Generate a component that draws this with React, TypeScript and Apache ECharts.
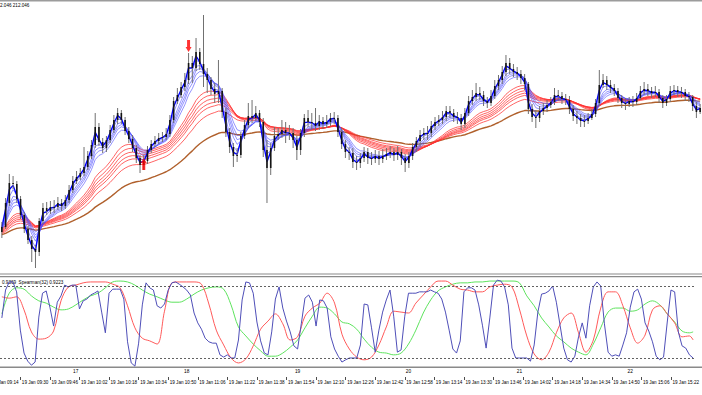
import React, { useEffect, useRef } from "react";
import * as echarts from "echarts";

// ---------- labels / categories ----------
const firstBarTime = "09:20";
const minutesPerBar = 2;
const dateLabel = "19 Jan";
const labelStartTime = "09:30";
const labelEveryMinutes = 16;
const headerText = "2.046 212.046";
const indicatorTitle = "0.9369  Spearman(32) 0.9223";
const leftCutLabel = "19 Jan 09:14";
const hourMarks: [string, string][] = [
  ["10:00", "17"], ["11:00", "18"], ["12:00", "19"],
  ["13:00", "20"], ["14:00", "21"], ["15:00", "22"],
];

// ---------- price axis ----------
const priceMin = 211.221;
const priceMax = 212.576;

// ---------- OHLC ----------
const openP = [
  211.426,211.451,211.571,211.671,211.666,211.591,211.511,211.441,211.386,211.341,
  211.326,211.481,211.546,211.531,211.551,211.551,211.571,211.556,211.586,211.636,
  211.681,211.701,211.721,211.751,211.806,211.861,211.951,211.876,211.846,211.886,
  211.936,211.986,212.021,211.986,211.931,211.891,211.846,211.796,211.761,211.781,
  211.836,211.866,211.881,211.896,211.901,211.916,211.986,212.081,212.111,212.151,
  212.186,212.271,212.246,212.326,212.266,212.216,212.186,212.141,212.116,212.131,
  212.026,211.926,211.851,211.806,211.811,211.906,211.961,212.006,211.996,212.021,
  211.976,211.836,211.746,211.846,211.906,211.916,211.936,211.921,211.921,211.886,
  211.836,211.921,211.996,211.976,211.971,211.956,211.981,211.966,211.976,211.996,
  211.996,211.926,211.866,211.826,211.821,211.776,211.771,211.796,211.826,211.796,
  211.791,211.806,211.791,211.806,211.816,211.826,211.811,211.826,211.796,211.771,
  211.806,211.851,211.881,211.911,211.921,211.921,211.956,211.976,211.986,212.001,
  212.031,212.021,212.001,211.996,211.966,212.021,212.081,212.101,212.121,212.111,
  212.081,212.071,212.106,212.156,212.186,212.226,212.271,212.241,212.226,212.216,
  212.196,212.166,212.041,212.001,211.996,212.031,212.046,212.061,212.076,212.111,
  212.106,212.091,212.086,212.041,212.006,211.996,211.981,211.981,211.996,212.016,
  212.071,212.161,212.186,212.161,212.146,212.131,212.096,212.071,212.066,212.081,
  212.076,212.096,212.131,212.141,212.131,212.121,212.126,212.096,212.071,212.091,
  212.131,212.136,212.126,212.126,212.106,212.101,212.056,212.026,
];
const highP = [
  211.476,211.596,211.716,211.706,211.681,211.606,211.526,211.456,211.406,211.361,
  211.496,211.571,211.576,211.581,211.586,211.601,211.591,211.611,211.661,211.706,
  211.731,211.746,211.851,211.831,211.886,212.021,211.971,211.896,211.906,211.961,
  212.011,212.046,212.036,212.001,211.951,211.911,211.861,211.811,211.811,211.856,
  211.886,211.906,211.921,211.926,211.946,212.011,212.101,212.146,212.176,212.221,
  212.321,212.306,212.396,212.346,212.511,212.246,212.201,212.171,212.286,212.146,
  212.046,211.946,211.871,211.846,211.926,211.986,212.071,212.086,212.056,212.036,
  211.996,211.886,211.871,211.951,211.946,211.986,211.976,211.961,211.946,211.906,
  211.941,212.016,212.036,212.021,212.046,212.011,212.001,212.011,212.021,212.026,
  212.011,211.946,211.886,211.851,211.846,211.806,211.821,211.851,211.846,211.826,
  211.836,211.831,211.841,211.846,211.856,211.846,211.856,211.841,211.816,211.826,
  211.871,211.901,211.936,211.946,211.956,211.981,212.001,212.011,212.031,212.056,
  212.056,212.041,212.026,212.016,212.046,212.106,212.136,212.171,212.151,212.131,
  212.101,212.136,212.186,212.211,212.256,212.311,212.296,212.266,212.251,212.236,
  212.216,212.176,212.066,212.036,212.056,212.071,212.086,212.101,212.146,212.136,
  212.126,212.116,212.106,212.061,212.031,212.016,212.011,212.021,212.041,212.091,
  212.236,212.216,212.206,212.186,212.166,212.146,212.111,212.096,212.101,212.106,
  212.121,212.156,212.176,212.166,212.151,212.156,212.141,212.111,212.111,212.156,
  212.161,212.156,212.151,212.141,212.126,212.111,212.076,212.066,
];
const lowP = [
  211.396,211.441,211.556,211.641,211.571,211.491,211.421,211.366,211.276,211.246,
  211.306,211.466,211.511,211.516,211.521,211.536,211.531,211.541,211.571,211.621,
  211.666,211.686,211.706,211.736,211.791,211.846,211.856,211.821,211.826,211.871,
  211.921,211.966,211.966,211.911,211.871,211.826,211.771,211.721,211.736,211.766,
  211.821,211.851,211.866,211.876,211.886,211.901,211.971,212.066,212.096,212.131,
  212.166,212.171,212.231,212.236,212.151,212.121,212.111,212.071,212.071,211.996,
  211.901,211.821,211.751,211.776,211.796,211.891,211.946,211.971,211.981,211.951,
  211.801,211.571,211.711,211.831,211.886,211.896,211.871,211.886,211.846,211.786,
  211.811,211.901,211.951,211.936,211.931,211.936,211.941,211.946,211.956,211.966,
  211.901,211.841,211.796,211.786,211.746,211.736,211.746,211.776,211.766,211.761,
  211.771,211.761,211.771,211.786,211.796,211.781,211.786,211.761,211.726,211.746,
  211.786,211.826,211.856,211.886,211.886,211.901,211.936,211.956,211.966,211.981,
  211.996,211.976,211.966,211.936,211.946,212.006,212.061,212.081,212.086,212.056,
  212.046,212.056,212.091,212.136,212.166,212.206,212.216,212.201,212.186,212.166,
  212.136,212.016,211.976,211.946,211.976,212.011,212.026,212.046,212.061,212.081,
  212.066,212.061,212.016,211.981,211.966,211.951,211.951,211.966,211.986,212.001,
  212.056,212.146,212.136,212.121,212.106,212.071,212.046,212.036,212.051,212.051,
  212.061,212.086,212.111,212.106,212.096,212.101,212.071,212.046,212.056,212.076,
  212.111,212.101,212.096,212.081,212.076,212.031,211.996,212.016,
];
const closeP = [
  211.451,211.571,211.671,211.666,211.591,211.511,211.441,211.386,211.341,211.326,
  211.481,211.546,211.531,211.551,211.551,211.571,211.556,211.586,211.636,211.681,
  211.701,211.721,211.751,211.806,211.861,211.951,211.876,211.846,211.886,211.936,
  211.986,212.021,211.986,211.931,211.891,211.846,211.796,211.761,211.781,211.836,
  211.866,211.881,211.896,211.901,211.916,211.986,212.081,212.111,212.151,212.186,
  212.271,212.246,212.326,212.266,212.216,212.186,212.141,212.116,212.131,212.026,
  211.926,211.851,211.806,211.811,211.906,211.961,212.006,211.996,212.021,211.976,
  211.836,211.746,211.846,211.906,211.916,211.936,211.921,211.921,211.886,211.836,
  211.921,211.996,211.976,211.971,211.956,211.981,211.966,211.976,211.996,211.996,
  211.926,211.866,211.826,211.821,211.776,211.771,211.796,211.826,211.796,211.791,
  211.806,211.791,211.806,211.816,211.826,211.811,211.826,211.796,211.771,211.806,
  211.851,211.881,211.911,211.921,211.921,211.956,211.976,211.986,212.001,212.031,
  212.021,212.001,211.996,211.966,212.021,212.081,212.101,212.121,212.111,212.081,
  212.071,212.106,212.156,212.186,212.226,212.271,212.241,212.226,212.216,212.196,
  212.166,212.041,212.001,211.996,212.031,212.046,212.061,212.076,212.111,212.106,
  212.091,212.086,212.041,212.006,211.996,211.981,211.981,211.996,212.016,212.071,
  212.161,212.186,212.161,212.146,212.131,212.096,212.071,212.066,212.081,212.076,
  212.096,212.131,212.141,212.131,212.121,212.126,212.096,212.071,212.091,212.131,
  212.136,212.126,212.126,212.106,212.101,212.056,212.026,212.046,
];

// ---------- moving averages (GMMA + trend) ----------
const shortPeriods = [3, 5, 8, 10, 12, 15];
const longPeriods = [30, 35, 40, 45, 50, 60];
const trendPeriod = 100;
const shortSeeds = [211.446, 211.446, 211.441, 211.441, 211.436, 211.436];
const longSeeds = [211.441, 211.436, 211.431, 211.426, 211.421, 211.416];
const trendSeed = 211.411;

// ---------- signal arrows [barIndex, price] ----------
const arrowsDown = [[50, 212.356]];
const arrowsUp = [[38, 211.766]];

// ---------- Spearman panel ----------
const spearBlue = [
  0.09,0.71,0.89,0.89,0.67,-0.18,-0.69,-0.87,-0.96,-0.89,
  0.11,0.64,0.69,0.33,-0.09,0.44,0.58,0.82,0.78,0.82,
  0.82,0.29,0.47,0.51,0.60,0.64,0.69,0.22,-0.24,0.64,
  0.73,0.73,0.73,0.51,-0.44,-0.91,-0.98,-0.47,0.38,0.87,
  0.76,0.71,0.36,0.31,0.40,0.71,0.87,0.89,0.84,0.78,
  0.71,0.60,0.20,-0.02,-0.16,-0.36,-0.44,-0.47,-0.47,-0.73,
  -0.78,-0.73,-0.80,-0.80,-0.40,0.49,0.89,0.87,0.64,0.00,
  -0.42,-0.69,-0.73,-0.22,0.51,0.78,0.31,0.02,-0.22,-0.53,
  -0.60,-0.04,0.53,0.60,0.44,-0.09,0.49,0.47,0.31,-0.33,
  -0.60,-0.76,-0.89,-0.84,-0.80,-0.80,-0.80,-0.51,0.40,0.38,
  -0.13,-0.67,-0.18,0.22,0.49,0.71,0.13,-0.67,-0.62,0.13,
  0.64,0.64,0.64,0.67,0.67,0.67,0.71,0.67,0.64,0.51,
  0.22,-0.18,-0.60,-0.69,-0.42,0.67,0.76,0.76,0.71,0.38,
  -0.07,-0.58,0.09,0.82,0.93,0.91,0.78,0.38,-0.58,-0.80,
  -0.80,-0.80,-0.80,-0.87,-0.51,0.22,0.62,0.64,0.69,0.80,
  0.44,-0.07,-0.58,-0.84,-0.89,-0.76,-0.33,-0.02,-0.36,0.36,
  0.78,0.89,0.80,-0.04,-0.67,-0.76,-0.73,-0.76,-0.51,-0.24,
  0.33,0.67,0.73,0.51,-0.02,-0.20,-0.44,-0.76,-0.84,-0.78,
  0.00,0.71,0.67,-0.22,-0.53,-0.58,-0.73,-0.80,
];
// sampled every 2 bars, last value at the final bar
const spearRed = [
  0.56,0.53,0.56,0.27,-0.22,-0.38,-0.36,-0.20,0.47,0.78,
  0.82,0.87,0.89,0.89,0.89,0.84,0.76,0.36,-0.13,-0.36,
  -0.42,-0.49,0.24,0.87,0.89,0.89,0.89,0.84,0.40,-0.18,
  -0.51,-0.80,-0.91,-0.82,-0.53,-0.16,0.02,0.18,-0.04,-0.40,
  -0.33,0.13,0.31,0.42,0.64,0.42,-0.27,-0.60,-0.78,-0.84,
  -0.78,-0.51,-0.11,0.24,0.22,0.20,0.42,0.60,0.78,0.91,
  0.91,0.82,0.73,0.71,0.67,0.67,0.78,0.82,0.84,0.78,
  0.29,-0.31,-0.71,-0.84,-0.67,-0.24,0.09,0.20,-0.24,-0.67,
  -0.40,0.31,0.67,0.67,0.36,-0.13,-0.47,-0.29,0.27,0.36,
  0.18,-0.02,-0.33,-0.31,-0.40,
];
const spearGreen = [
  0.18,0.64,0.76,0.73,0.58,0.47,0.42,0.33,0.27,0.29,
  0.38,0.49,0.58,0.64,0.76,0.89,0.91,0.89,0.82,0.71,
  0.62,0.56,0.49,0.44,0.44,0.51,0.62,0.71,0.76,0.78,
  0.73,0.38,-0.11,-0.31,-0.49,-0.64,-0.76,-0.76,-0.69,-0.56,
  -0.40,-0.13,0.13,0.33,0.31,0.18,0.00,-0.04,-0.16,-0.38,
  -0.56,-0.67,-0.69,-0.73,-0.69,-0.49,-0.18,0.20,0.49,0.69,
  0.78,0.84,0.87,0.87,0.89,0.89,0.91,0.91,0.91,0.91,
  0.87,0.58,0.36,0.09,-0.11,-0.31,-0.44,-0.58,-0.67,-0.73,
  -0.49,-0.13,0.22,0.31,0.31,0.24,0.27,0.40,0.47,0.38,
  0.18,0.00,-0.20,-0.24,-0.22,
];
const sampleStep = 2;
const levels = [0.8, -0.8];

// ---------- helpers ----------
const FONT = "'Liberation Sans', Arial, sans-serif";
const toMin = (t: string) => {
  const [h, m] = t.split(":").map(Number);
  return h * 60 + m;
};
const fmt = (m: number) =>
  `${String(Math.floor(m / 60)).padStart(2, "0")}:${String(m % 60).padStart(2, "0")}`;
const categories = closeP.map((_, i) => fmt(toMin(firstBarTime) + i * minutesPerBar));
const isTimeLabel = (i: number) => {
  const d = toMin(categories[i]) - toMin(labelStartTime);
  return d >= 0 && d % labelEveryMinutes === 0;
};
const hourMap = new Map(hourMarks);

function emaLine(values: number[], periodMinutes: number, seed: number): number[] {
  const k = 1 - Math.pow(1 - 2 / (periodMinutes + 1), minutesPerBar);
  let v = seed;
  return values.map((x) => {
    v = v + k * (x - v);
    return Math.round(v * 10000) / 10000;
  });
}
const sampled = (arr: number[]) =>
  arr.map((v, k) => [Math.min(k * sampleStep, closeP.length - 1), v]);

export default function App() {
  const ref = useRef<HTMLDivElement>(null);
  useEffect(() => {
    if (!ref.current) return;
    const chart = echarts.init(ref.current, undefined, { renderer: "svg" });

    const candleData = closeP.map((c, i) => [i, openP[i], c, lowP[i], highP[i]]);
    const lineBase = {
      type: "line",
      xAxisIndex: 0,
      yAxisIndex: 0,
      showSymbol: false,
      symbol: "none",
      silent: true,
      clip: true,
    };
    const longLines = longPeriods.map((p, k) => ({
      ...lineBase,
      name: `EMA${p}`,
      data: emaLine(closeP, p, longSeeds[k]),
      lineStyle: { color: "#ff3232", width: 0.75 },
      z: 3,
    }));
    const shortLines = shortPeriods.map((p, k) => ({
      ...lineBase,
      name: `EMA${p}`,
      data: emaLine(closeP, p, shortSeeds[k]),
      lineStyle: {
        color: k === 0 ? "#0000ff" : "#4a4aff",
        width: k === 0 ? 1.4 : 0.6,
      },
      z: k === 0 ? 5 : 4,
    }));

    const option: any = {
      animation: false,
      backgroundColor: "#ffffff",
      grid: [
        { left: 0, right: 0, top: 2, height: 271 },
        { left: 0, right: 0, top: 277, height: 90 },
      ],
      xAxis: [
        { type: "category", gridIndex: 0, data: categories, boundaryGap: true, show: false },
        {
          type: "category",
          gridIndex: 1,
          data: categories,
          boundaryGap: true,
          axisLine: { show: false },
          axisTick: { show: false },
          splitLine: { show: false },
          axisLabel: {
            interval: (_i: number, v: string) => hourMap.has(v),
            formatter: (v: string) => hourMap.get(v) ?? "",
            fontSize: 4.8,
            fontFamily: FONT,
            color: "#000",
            margin: 1.5,
          },
        },
        {
          type: "category",
          gridIndex: 1,
          data: categories,
          boundaryGap: true,
          position: "bottom",
          offset: 10,
          axisLine: { show: false },
          axisTick: {
            show: true,
            alignWithLabel: true,
            interval: (i: number) => isTimeLabel(i),
            length: 3,
            lineStyle: { color: "#000", width: 0.7 },
          },
          splitLine: { show: false },
          axisLabel: {
            interval: (i: number) => isTimeLabel(i),
            formatter: (v: string) => `${dateLabel} ${v}`,
            align: "left",
            padding: [0, 0, 0, 1.5],
            fontSize: 4.6,
            fontFamily: FONT,
            color: "#000",
            margin: 3,
          },
        },
      ],
      yAxis: [
        { type: "value", gridIndex: 0, min: priceMin, max: priceMax, show: false, splitLine: { show: false } },
        { type: "value", gridIndex: 1, min: -1, max: 1, show: false, splitLine: { show: false } },
      ],
      series: [
        {
          ...lineBase,
          name: `EMA${trendPeriod}`,
          data: emaLine(closeP, trendPeriod, trendSeed),
          lineStyle: { color: "#b0602c", width: 1.4 },
          z: 3,
        },
        ...longLines,
        ...shortLines,
        {
          type: "custom",
          name: "candles",
          xAxisIndex: 0,
          yAxisIndex: 0,
          data: candleData,
          encode: { x: 0, y: [1, 2, 3, 4] },
          clip: true,
          silent: true,
          z: 6,
          renderItem: (_params: any, api: any) => {
            const x = api.value(0);
            const o = api.coord([x, api.value(1)]);
            const c = api.coord([x, api.value(2)]);
            const l = api.coord([x, api.value(3)]);
            const h = api.coord([x, api.value(4)]);
            const top = Math.min(o[1], c[1]);
            const bot = Math.max(o[1], c[1]);
            const w = 1.6;
            return {
              type: "group",
              children: [
                {
                  type: "line",
                  shape: { x1: h[0], y1: h[1], x2: l[0], y2: l[1] },
                  style: { stroke: "#707070", lineWidth: 1 },
                },
                {
                  type: "rect",
                  shape: { x: o[0] - w / 2, y: top, width: w, height: Math.max(bot - top, 1) },
                  style: { fill: "#141414" },
                },
              ],
            };
          },
        },
        {
          type: "scatter",
          xAxisIndex: 0,
          yAxisIndex: 0,
          data: arrowsDown,
          symbol: "path://M2,0 L6,0 L6,7 L8,7 L4,12 L0,7 L2,7 Z",
          symbolSize: [6, 12],
          itemStyle: { color: "#ff0000" },
          silent: true,
          z: 8,
        },
        {
          type: "scatter",
          xAxisIndex: 0,
          yAxisIndex: 0,
          data: arrowsUp,
          symbol: "path://M4,0 L8,5 L6,5 L6,12 L2,12 L2,5 L0,5 Z",
          symbolSize: [6, 12],
          itemStyle: { color: "#ff0000" },
          silent: true,
          z: 8,
        },
        {
          type: "line",
          name: "green",
          xAxisIndex: 1,
          yAxisIndex: 1,
          data: sampled(spearGreen),
          showSymbol: false,
          symbol: "none",
          smooth: 0.35,
          silent: true,
          lineStyle: { color: "#5ee35e", width: 1 },
          z: 3,
        },
        {
          type: "line",
          name: "red",
          xAxisIndex: 1,
          yAxisIndex: 1,
          data: sampled(spearRed),
          showSymbol: false,
          symbol: "none",
          smooth: 0.35,
          silent: true,
          lineStyle: { color: "#ff5a5a", width: 1 },
          z: 3,
        },
        {
          type: "line",
          name: "Spearman(32)",
          xAxisIndex: 1,
          yAxisIndex: 1,
          data: spearBlue,
          showSymbol: false,
          symbol: "none",
          silent: true,
          lineStyle: { color: "#4f4fb8", width: 1 },
          z: 4,
          markLine: {
            silent: true,
            symbol: ["none", "none"],
            label: { show: false },
            lineStyle: { color: "#3a3a3a", type: [2, 2], width: 0.8 },
            data: levels.map((v) => ({ yAxis: v })),
          },
        },
      ],
      graphic: [
        { type: "rect", silent: true, shape: { x: 0, y: 0, width: 702, height: 1.5 }, style: { fill: "#9c9c9c" } },
        { type: "rect", silent: true, shape: { x: 0, y: 273.5, width: 702, height: 1 }, style: { fill: "#8a8a8a" } },
        { type: "rect", silent: true, shape: { x: 0, y: 276, width: 702, height: 1.2 }, style: { fill: "#8a8a8a" } },
        { type: "rect", silent: true, shape: { x: 0, y: 366.5, width: 702, height: 1.5 }, style: { fill: "#8a8a8a" } },
        {
          type: "text",
          silent: true,
          x: 0,
          y: 2.5,
          style: { text: headerText, fontSize: 4.6, fontFamily: FONT, fill: "#000", verticalAlign: "top", textVerticalAlign: "top" },
        },
        {
          type: "text",
          silent: true,
          x: 2,
          y: 279.5,
          style: { text: indicatorTitle, fontSize: 4.6, fontFamily: FONT, fill: "#000", verticalAlign: "top", textVerticalAlign: "top" },
        },
        {
          type: "text",
          silent: true,
          x: -8,
          y: 380,
          style: { text: leftCutLabel, fontSize: 4.6, fontFamily: FONT, fill: "#000", verticalAlign: "top", textVerticalAlign: "top" },
        },
      ],
    };
    chart.setOption(option);
    return () => chart.dispose();
  }, []);

  return (
    <div
      ref={ref}
      style={{ position: "fixed", left: 0, top: 0, width: 702, height: 395, background: "#ffffff" }}
    />
  );
}
